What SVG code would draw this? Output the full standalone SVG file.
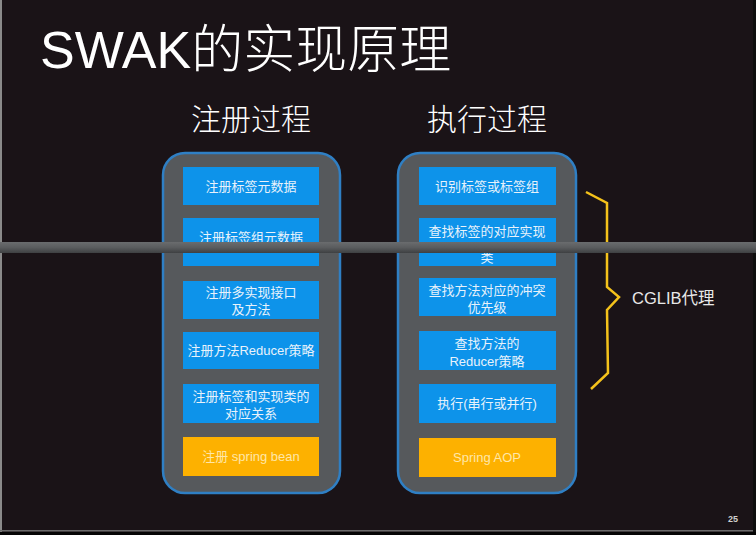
<svg xmlns="http://www.w3.org/2000/svg" width="756" height="535" viewBox="0 0 756 535">
<defs>
<style>
.t{font-family:"Helvetica Neue","Liberation Sans","Noto Sans CJK SC",sans-serif;fill:#ffffff}
.bx{font-family:"Liberation Sans","Noto Sans CJK SC",sans-serif;font-size:13px;fill:#e8f2fb;text-anchor:middle}
.ob{font-family:"Liberation Sans","Noto Sans CJK SC",sans-serif;font-size:13px;fill:#ffe7a8;text-anchor:middle}
.cont{fill:#56595c;stroke:#2f7fc4;stroke-width:2.5}
.blue{fill:#0d93ea}
.orange{fill:#fdb100}
</style>
<linearGradient id="band" x1="0" y1="0" x2="0" y2="1">
<stop offset="0" stop-color="#6a6c6e"/>
<stop offset="0.5" stop-color="#5a5c5e"/>
<stop offset="1" stop-color="#3e4042"/>
</linearGradient>
</defs>
<rect x="0" y="0" width="756" height="535" fill="#1a1317"/>
<rect x="0" y="0" width="2" height="532" fill="#8a8a8a"/>
<rect x="0" y="530" width="756" height="1.5" fill="#6a6a6a"/>
<rect x="0" y="532" width="756" height="3" fill="#050505"/>
<rect x="753" y="0" width="3" height="532" fill="#0e0e0e"/>

<text class="t" x="40" y="68" font-size="52" font-weight="300">SWAK的实现原理</text>
<text class="t" x="251" y="130" font-size="30" font-weight="300" text-anchor="middle">注册过程</text>
<text class="t" x="487" y="130" font-size="30" font-weight="300" text-anchor="middle">执行过程</text>

<g id="register">
<rect class="cont" x="163" y="153" width="177" height="340" rx="22"/>
<g id="r1"><rect class="blue" x="183" y="167" width="136" height="38"/><text class="bx" x="251" y="191">注册标签元数据</text></g>
<g id="r2"><rect class="blue" x="183" y="218" width="136" height="48"/><text class="bx" x="251" y="242">注册标签组元数据</text></g>
<g id="r3"><rect class="blue" x="183" y="281" width="136" height="38"/><text class="bx" x="251" y="297">注册多实现接口</text><text class="bx" x="251" y="314">及方法</text></g>
<g id="r4"><rect class="blue" x="183" y="332" width="136" height="37"/><text class="bx" x="251" y="355">注册方法Reducer策略</text></g>
<g id="r5"><rect class="blue" x="183" y="384" width="136" height="39"/><text class="bx" x="251" y="401">注册标签和实现类的</text><text class="bx" x="251" y="418">对应关系</text></g>
<g id="r6"><rect class="orange" x="183" y="437" width="136" height="39"/><text class="ob" x="251" y="461">注册 spring bean</text></g>
</g>

<g id="execute">
<rect class="cont" x="398" y="153" width="178" height="340" rx="22"/>
<g id="e1"><rect class="blue" x="419" y="167" width="137" height="38"/><text class="bx" x="487" y="191">识别标签或标签组</text></g>
<g id="e2"><rect class="blue" x="419" y="218" width="137" height="48"/><text class="bx" x="487" y="236">查找标签的对应实现</text><text class="bx" x="487" y="262">类</text></g>
<g id="e3"><rect class="blue" x="419" y="278" width="137" height="38"/><text class="bx" x="487" y="295">查找方法对应的冲突</text><text class="bx" x="487" y="312">优先级</text></g>
<g id="e4"><rect class="blue" x="419" y="331" width="137" height="39"/><text class="bx" x="487" y="348">查找方法的</text><text class="bx" x="487" y="366">Reducer策略</text></g>
<g id="e5"><rect class="blue" x="419" y="384" width="137" height="39"/><text class="bx" x="487" y="408">执行(串行或并行)</text></g>
<g id="e6"><rect class="orange" x="419" y="438" width="137" height="39"/><text class="ob" x="487" y="462">Spring AOP</text></g>
</g>

<g id="connectors">
<polyline points="586,192 607,203 607,287 619,297 607,310 608,373 591,389" fill="none" stroke="#f4c21b" stroke-width="2.5" stroke-linejoin="miter"/>
</g>
<text class="t" x="632" y="304" font-size="16.5" style="fill:#e8e8e8">CGLIB代理</text>

<rect x="0" y="242" width="756" height="11" fill="url(#band)"/>

<text x="733" y="522" font-family="Liberation Sans, sans-serif" font-size="9" font-weight="bold" fill="#d0d0d0" text-anchor="middle">25</text>
</svg>
